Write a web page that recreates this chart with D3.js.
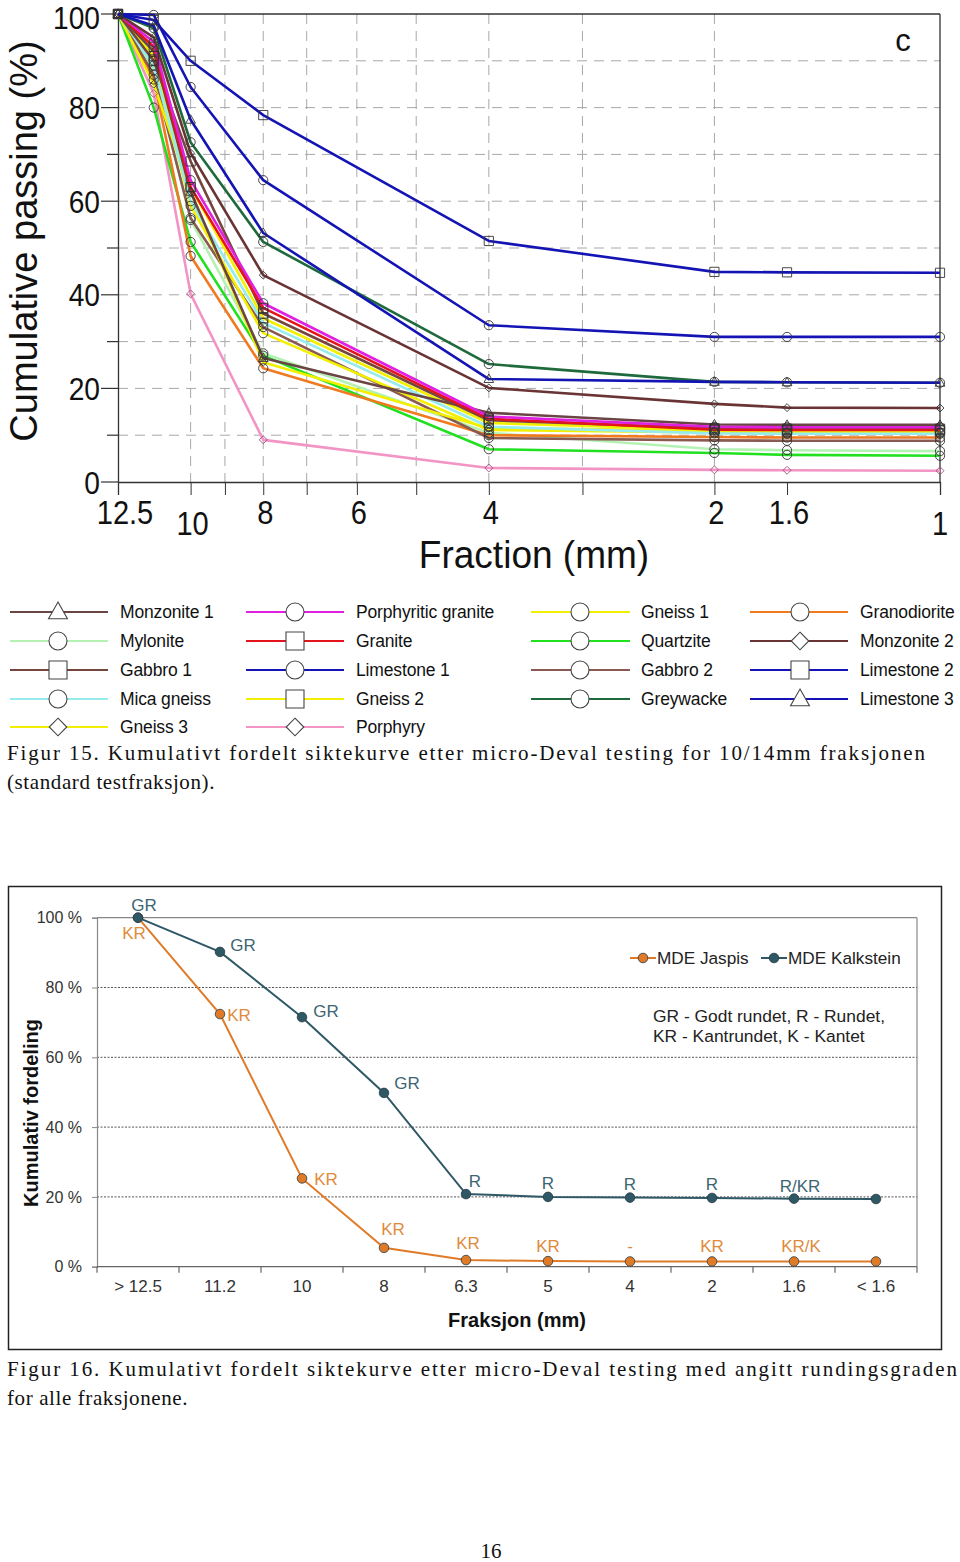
<!DOCTYPE html>
<html><head><meta charset="utf-8">
<script src="https://cdn.jsdelivr.net/npm/d3@7"></script>
<style>
html,body{margin:0;padding:0;background:#fff;}
svg{display:block;}
</style></head>
<body>
<svg id="page" width="960" height="1562"></svg>
<script>
// ---------- Figure 15 data ----------
const fractions = [12.5, 11.2, 10, 8, 4, 2, 1.6, 1];
const xTickValues = [12.5, 10, 9, 8, 7, 6, 5, 4, 3, 2, 1.6, 1];
const xTickLabels = ["12.5", "10", "", "8", "", "6", "", "4", "", "2", "1.6", "1"];
const yTickValues = [0, 20, 40, 60, 80, 100];

const monzonite1   = [100, 92, 62, 26.5, 14.8, 12.3, 12.2, 12.2];
const mylonite     = [100, 88, 56, 27.5, 10.5, 7.0, 6.8, 6.6];
const gabbro1      = [100, 90, 68.5, 36, 13.2, 11.5, 11.4, 11.4];
const micaGneiss   = [100, 89, 60, 34, 11.8, 10.4, 10.3, 10.3];
const gneiss3      = [100, 85, 62, 25.6, 11.5, 11.0, 11.0, 11.0];
const porphyriticGranite = [100, 94, 64.5, 38.2, 14.0, 11.8, 11.7, 11.7];
const granite      = [100, 93, 63, 37.2, 13.5, 11.2, 11.1, 11.1];
const limestone1   = [100, 99.8, 84.4, 64.5, 33.5, 31, 31, 31];
const gneiss2      = [100, 91, 63, 35, 12.6, 11.2, 11.0, 11.0];
const porphyry     = [100, 83, 40.2, 9, 3.0, 2.6, 2.5, 2.4];
const gneiss1      = [100, 90, 59, 31.8, 11.1, 10.6, 10.5, 10.5];
const quartzite    = [100, 80, 51.3, 27, 7.0, 6.2, 5.8, 5.6];
const gabbro2      = [100, 87, 56.4, 33.1, 9.4, 8.9, 8.8, 8.8];
const greywacke    = [100, 97, 72.6, 51.3, 25.2, 21.4, 21.3, 21.2];
const granodiorite = [100, 86, 48.3, 24.3, 10.0, 9.6, 9.5, 9.5];
const monzonite2   = [100, 95, 70.3, 44.2, 20.1, 16.7, 15.9, 15.8];
const limestone2   = [100, 98.7, 90, 78.4, 51.5, 44.9, 44.8, 44.7];
const limestone3   = [100, 97.5, 77.4, 53.2, 22, 21.4, 21.3, 21.2];

const seriesNames = ["Monzonite 1","Mylonite","Gabbro 1","Mica gneiss","Gneiss 3",
  "Porphyritic granite","Granite","Limestone 1","Gneiss 2","Porphyry",
  "Gneiss 1","Quartzite","Gabbro 2","Greywacke",
  "Granodiorite","Monzonite 2","Limestone 2","Limestone 3"];
const seriesValues = [monzonite1, mylonite, gabbro1, micaGneiss, gneiss3,
  porphyriticGranite, granite, limestone1, gneiss2, porphyry,
  gneiss1, quartzite, gabbro2, greywacke,
  granodiorite, monzonite2, limestone2, limestone3];
const seriesColors = ["#6b4444","#b4f2b4","#74463e","#96ecec","#f2f000",
  "#e020e0","#e4141c","#1414b4","#f2f000","#f294c4",
  "#f2f000","#20e020","#8a5a52","#1e6a3c",
  "#f07a20","#6a3434","#1414b4","#1414b4"];
const seriesMarkers = ["triangle","circle","square","circle","diamond",
  "circle","square","circle","square","diamond",
  "circle","circle","circle","circle",
  "circle","diamond","square","triangle"];
const legendColumns = [5, 5, 4, 4];

// ---------- Figure 16 data ----------
const fraksjoner = ["> 12.5","11.2","10","8","6.3","5","4","2","1.6","< 1.6"];
const jaspis    = [100, 72.4, 25.3, 5.4, 1.9, 1.6, 1.5, 1.5, 1.5, 1.5];
const kalkstein = [100, 90.2, 71.5, 49.8, 20.8, 20.0, 19.8, 19.7, 19.5, 19.4];
const jaspisLabels    = ["KR","KR","KR","KR","KR","KR","-","KR","KR/K",""];
const kalksteinLabels = ["GR","GR","GR","GR","R","R","R","R","R/KR",""];
const pctTicks = [0, 20, 40, 60, 80, 100];

const svg = d3.select("#page");

// =================== FIGURE 15 ===================
const sans = "'Liberation Sans',Arial,sans-serif";
const X1 = d3.scaleLog().domain([12.5, 1]).range([118, 940]);
const Y1 = d3.scaleLinear().domain([0, 100]).range([482, 14]);
const g1 = svg.append("g");

// grid
g1.selectAll(".hg").data(d3.range(10, 100, 10)).join("line")
  .attr("x1", 118).attr("x2", 940).attr("y1", d => Y1(d)).attr("y2", d => Y1(d))
  .attr("stroke", "#a8a8a8").attr("stroke-width", 1).attr("stroke-dasharray", "10,7");
g1.selectAll(".vg").data([10,9,8,7,6,5,4,3,2]).join("line")
  .attr("x1", d => X1(d)).attr("x2", d => X1(d)).attr("y1", 14).attr("y2", 482)
  .attr("stroke", "#a8a8a8").attr("stroke-width", 1).attr("stroke-dasharray", "10,7");
// frame
g1.append("line").attr("x1",118).attr("x2",940).attr("y1",Y1(100)).attr("y2",Y1(100)).attr("stroke","#333").attr("stroke-width",1.3);
g1.append("line").attr("x1",940).attr("x2",940).attr("y1",Y1(100)).attr("y2",Y1(0)).attr("stroke","#333").attr("stroke-width",1.3);

// y axis
const yAx = g1.append("g").attr("transform","translate(118,0)")
  .call(d3.axisLeft(Y1).tickValues(d3.range(0,101,10)).tickSize(0).tickFormat(""));
yAx.select(".domain").attr("stroke","#333").attr("stroke-width",1.3);
g1.selectAll(".ytk").data(d3.range(0,101,10)).join("line")
  .attr("x1", d => d % 20 === 0 ? 101 : 107).attr("x2",118)
  .attr("y1", d => Y1(d)).attr("y2", d => Y1(d)).attr("stroke","#333").attr("stroke-width",1.2);
g1.selectAll(".ytl").data(yTickValues).join("text")
  .attr("transform", d => `translate(100,${d === 100 ? Y1(d) + 3 : Y1(d)}) scale(0.88,1)`)
  .attr("dy","0.36em").attr("text-anchor","end")
  .attr("font-family", sans).attr("font-size", 32).attr("fill","#111").text(d => d);

// x axis
const xAx = g1.append("g").attr("transform","translate(0,482)")
  .call(d3.axisBottom(X1).tickValues(xTickValues).tickSize(13).tickFormat(""));
xAx.select(".domain").attr("stroke","#333").attr("stroke-width",1.3);
xAx.selectAll(".tick line").attr("stroke","#333").attr("stroke-width",1);
g1.selectAll(".xtl").data(xTickValues.map((v,i)=>({v, l:xTickLabels[i]})).filter(d=>d.l)).join("text")
  .attr("transform", d => `translate(${X1(d.v) + (d.v===12.5 ? 7 : (d.v===1 ? 0 : 2))},${(d.v===10 || d.v===1) ? 535 : 524}) scale(0.88,1)`)
  .attr("text-anchor","middle").attr("font-family", sans).attr("font-size", 33).attr("fill","#111")
  .text(d => d.l);
g1.append("text").attr("transform","translate(534,568) scale(0.95,1)").attr("text-anchor","middle")
  .attr("font-family", sans).attr("font-size", 39).attr("fill","#111").text("Fraction (mm)");
g1.append("text").attr("transform","translate(37,241) rotate(-90)").attr("text-anchor","middle")
  .attr("font-family", sans).attr("font-size", 38).attr("fill","#111").text("Cumulative passing (%)");
g1.append("text").attr("x", 903).attr("y", 51).attr("text-anchor","middle")
  .attr("font-family", sans).attr("font-size", 31).attr("fill","#111").text("c");

// markers
function markerPath(type, s) {
  if (type === "circle") return d3.symbol(d3.symbolCircle, Math.PI*s*s)();
  if (type === "square") return `M${-s},${-s}H${s}V${s}H${-s}Z`;
  if (type === "diamond") return `M0,${-s*1.1}L${s*1.1},0L0,${s*1.1}L${-s*1.1},0Z`;
  if (type === "triangle") return `M0,${-s*1.1}L${s*1.05},${s*0.75}L${-s*1.05},${s*0.75}Z`;
}
const lineGen = d3.line().x(d => X1(d[0])).y(d => Y1(d[1]));
const drawOrder = [9,11,1,14,12,4,10,3,8,0,2,6,5,15,13,17,7,16];
drawOrder.forEach(i => {
  const pts = fractions.map((f, j) => [f, seriesValues[i][j]]);
  g1.append("path").datum(pts).attr("d", lineGen).attr("fill","none")
    .attr("stroke", seriesColors[i]).attr("stroke-width", 2.6).attr("stroke-linejoin","round");
});
drawOrder.forEach(i => {
  const pts = fractions.map((f, j) => [f, seriesValues[i][j]]);
  const sz = seriesMarkers[i] === "diamond" ? 3.6 : 4.6;
  g1.selectAll(null).data(pts).join("path")
    .attr("transform", d => `translate(${X1(d[0])},${Y1(d[1])})`)
    .attr("d", markerPath(seriesMarkers[i], sz)).attr("fill","none")
    .attr("stroke", seriesMarkers[i]==="diamond" && i===9 ? "#a05080" : "#333").attr("stroke-width", 0.9);
});

// legend
const legX = [[10,108,58,120],[246,344,295,356],[531,630,580,641],[750,848,800,860]];
const legY = [612, 641, 670, 699, 727];
let idx = 0;
legendColumns.forEach((n, c) => {
  for (let r = 0; r < n; r++, idx++) {
    const [xa, xb, xm, xt] = legX[c];
    const y = legY[r];
    g1.append("line").attr("x1", xa).attr("x2", xb).attr("y1", y).attr("y2", y)
      .attr("stroke", seriesColors[idx]).attr("stroke-width", 2.2);
    g1.append("path").attr("transform", `translate(${xm},${y})`)
      .attr("d", markerPath(seriesMarkers[idx], seriesMarkers[idx]==="diamond" ? 8 : 9))
      .attr("fill","#fff").attr("stroke","#444").attr("stroke-width", 1.1);
    g1.append("text").attr("x", xt).attr("y", y).attr("dy","0.35em")
      .attr("font-family", sans).attr("font-size", 17.5).attr("letter-spacing","-0.15").attr("fill","#111")
      .text(seriesNames[idx]);
  }
});

// caption 15
const serif = "'Liberation Serif','Times New Roman',serif";
svg.append("text").attr("x", 7).attr("y", 760).attr("font-family", serif).attr("font-size", 21)
  .attr("textLength", 918).attr("lengthAdjust","spacing").attr("fill","#111")
  .text("Figur 15. Kumulativt fordelt siktekurve etter micro-Deval testing for 10/14mm fraksjonen");
svg.append("text").attr("x", 7).attr("y", 789).attr("font-family", serif).attr("font-size", 21)
  .attr("letter-spacing","0.6").attr("fill","#111").text("(standard testfraksjon).");

// =================== FIGURE 16 ===================
const g2 = svg.append("g");
g2.append("rect").attr("x", 8.5).attr("y", 886.5).attr("width", 933).attr("height", 463)
  .attr("fill","#fff").attr("stroke","#222").attr("stroke-width", 1.5);
const X2 = d3.scalePoint().domain(fraksjoner).range([97, 917]).padding(0.5);
const Y2 = d3.scaleLinear().domain([0, 100]).range([1266.7, 917.7]);
const bandW = X2.step();

// gridlines
g2.selectAll(".g2").data([20,40,60,80]).join("line")
  .attr("x1", 97).attr("x2", 917).attr("y1", d => Y2(d)).attr("y2", d => Y2(d))
  .attr("stroke","#555").attr("stroke-width", 1).attr("stroke-dasharray","2,1.5");
// frame top/right
g2.append("line").attr("x1",97).attr("x2",917).attr("y1",Y2(100)).attr("y2",Y2(100)).attr("stroke","#888").attr("stroke-width",1.2);
g2.append("line").attr("x1",917).attr("x2",917).attr("y1",Y2(100)).attr("y2",Y2(0)).attr("stroke","#888").attr("stroke-width",1.2);

// y axis
const y2Ax = g2.append("g").attr("transform","translate(97,0)")
  .call(d3.axisLeft(Y2).tickValues(pctTicks).tickSize(5).tickFormat(d => d + " %"));
y2Ax.select(".domain").attr("stroke","#888").attr("stroke-width",1.2);
y2Ax.selectAll(".tick line").attr("stroke","#888");
y2Ax.selectAll(".tick text").attr("font-family", sans).attr("font-size", 16).attr("fill","#333").attr("x", -15);

// x axis
g2.append("line").attr("x1",97).attr("x2",917).attr("y1",Y2(0)).attr("y2",Y2(0)).attr("stroke","#666").attr("stroke-width",1.3);
g2.selectAll(".x2t").data(d3.range(0, fraksjoner.length + 1)).join("line")
  .attr("x1", i => 97 + i*bandW).attr("x2", i => 97 + i*bandW)
  .attr("y1", Y2(0)).attr("y2", Y2(0) + 6).attr("stroke","#666").attr("stroke-width",1.2);
g2.selectAll(".x2l").data(fraksjoner).join("text")
  .attr("x", d => X2(d)).attr("y", 1292).attr("text-anchor","middle")
  .attr("font-family", sans).attr("font-size", 17).attr("fill","#333").text(d => d);
g2.append("text").attr("x", 517).attr("y", 1327).attr("text-anchor","middle")
  .attr("font-family", sans).attr("font-size", 20).attr("font-weight","bold").attr("fill","#111").text("Fraksjon (mm)");
g2.append("text").attr("transform","translate(38,1113) rotate(-90)").attr("text-anchor","middle")
  .attr("font-family", sans).attr("font-size", 20).attr("font-weight","bold").attr("fill","#111").text("Kumulativ fordeling");

const orange = "#df7b28", teal = "#2f5866";
const orangeTxt = "#e08a3c", tealTxt = "#3d6672";
const line2 = d3.line().x(d => X2(d[0])).y(d => Y2(d[1]));
[[jaspis, orange], [kalkstein, teal]].forEach(([vals, col]) => {
  const pts = fraksjoner.map((f, i) => [f, vals[i]]);
  g2.append("path").datum(pts).attr("d", line2).attr("fill","none").attr("stroke", col).attr("stroke-width", 2);
  g2.selectAll(null).data(pts).join("circle")
    .attr("cx", d => X2(d[0])).attr("cy", d => Y2(d[1])).attr("r", 4.8)
    .attr("fill", col).attr("stroke", "#2a3a40").attr("stroke-width", 0.8);
});

// point labels
const kalkOffsets = [[6,-13],[23,-7],[24,-6],[23,-10],[9,-13],[0,-14],[0,-14],[0,-14],[6,-13],[0,0]];
const jasOffsets  = [[-4,15],[19,1],[24,1],[9,-19],[2,-17],[0,-15],[0,-15],[0,-15],[7,-15],[0,0]];
g2.selectAll(".kl").data(fraksjoner.map((f,i)=>({f, v:kalkstein[i], t:kalksteinLabels[i], o:kalkOffsets[i]}))).join("text")
  .attr("x", d => X2(d.f) + d.o[0]).attr("y", d => Y2(d.v) + d.o[1]).attr("dy","0.35em")
  .attr("text-anchor","middle").attr("font-family", sans).attr("font-size", 17).attr("fill", tealTxt)
  .text(d => d.t);
g2.selectAll(".jl").data(fraksjoner.map((f,i)=>({f, v:jaspis[i], t:jaspisLabels[i], o:jasOffsets[i]}))).join("text")
  .attr("x", d => X2(d.f) + d.o[0]).attr("y", d => Y2(d.v) + d.o[1]).attr("dy","0.35em")
  .attr("text-anchor","middle").attr("font-family", sans).attr("font-size", 17).attr("fill", orangeTxt)
  .text(d => d.t);

// legend
[[630, "MDE Jaspis", orange], [761, "MDE Kalkstein", teal]].forEach(([x, t, col]) => {
  g2.append("line").attr("x1", x).attr("x2", x + 26).attr("y1", 958).attr("y2", 958).attr("stroke", col).attr("stroke-width", 2);
  g2.append("circle").attr("cx", x + 13).attr("cy", 958).attr("r", 4.8).attr("fill", col).attr("stroke","#2a3a40").attr("stroke-width",0.8);
  g2.append("text").attr("x", x + 27).attr("y", 958).attr("dy","0.35em").attr("font-family", sans)
    .attr("font-size", 17.2).attr("fill","#222").text(t);
});
g2.append("text").attr("x", 653).attr("y", 1016).attr("dy","0.35em").attr("font-family", sans)
  .attr("font-size", 17.4).attr("fill","#222").text("GR - Godt rundet, R - Rundet,");
g2.append("text").attr("x", 653).attr("y", 1036).attr("dy","0.35em").attr("font-family", sans)
  .attr("font-size", 17.4).attr("fill","#222").text("KR - Kantrundet, K - Kantet");

// caption 16
svg.append("text").attr("x", 7).attr("y", 1376).attr("font-family", serif).attr("font-size", 21)
  .attr("textLength", 950).attr("lengthAdjust","spacing").attr("fill","#111")
  .text("Figur 16. Kumulativt fordelt siktekurve etter micro-Deval testing med angitt rundingsgraden");
svg.append("text").attr("x", 7).attr("y", 1405).attr("font-family", serif).attr("font-size", 21)
  .attr("letter-spacing","0.6").attr("fill","#111").text("for alle fraksjonene.");
svg.append("text").attr("x", 491).attr("y", 1558).attr("text-anchor","middle").attr("font-family", serif)
  .attr("font-size", 21).attr("fill","#111").text("16");
</script>
</body></html>
